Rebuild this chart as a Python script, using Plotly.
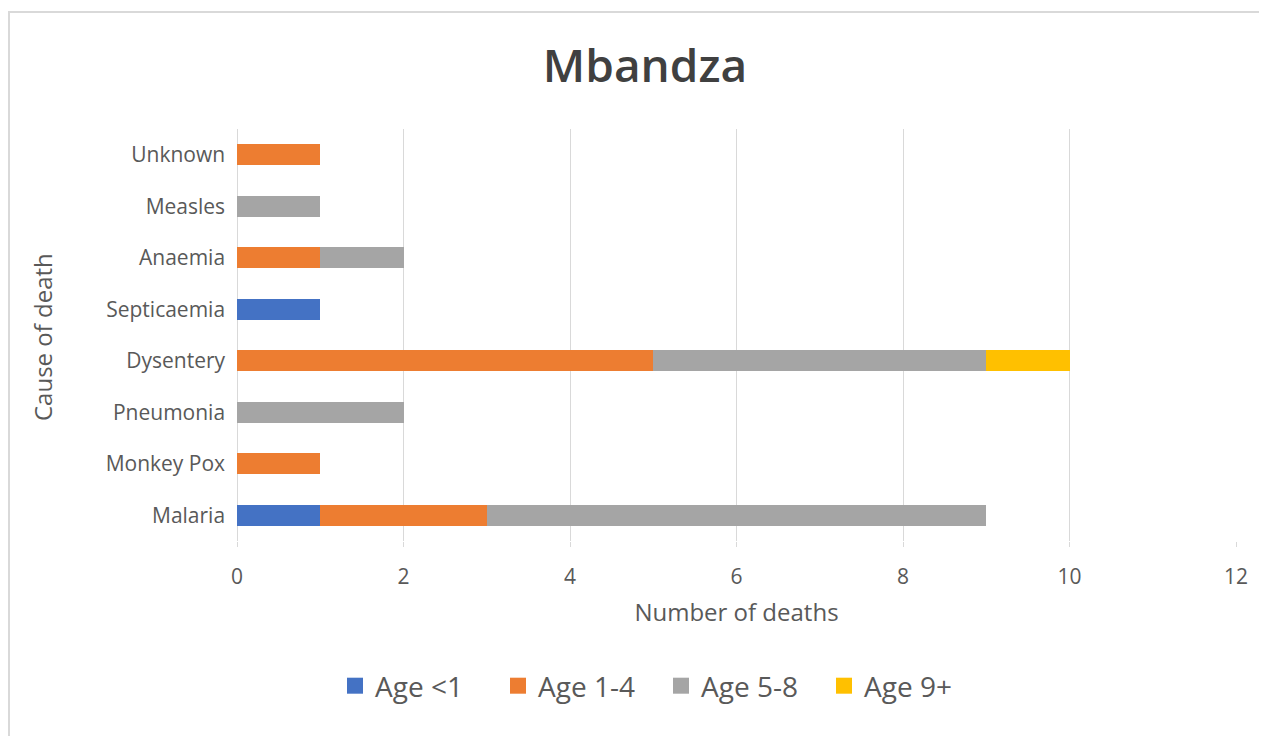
import plotly.graph_objects as go

causes = ["Malaria", "Monkey Pox", "Pneumonia", "Dysentery", "Septicaemia",
          "Anaemia", "Measles", "Unknown"]
age_under1 = [1, 0, 0, 0, 1, 0, 0, 0]
age_1_4 = [2, 1, 0, 5, 0, 1, 0, 1]
age_5_8 = [6, 0, 2, 4, 0, 1, 1, 0]
age_9plus = [0, 0, 0, 1, 0, 0, 0, 0]

series = [
    ("Age <1", age_under1, "#4472C4"),
    ("Age 1-4", age_1_4, "#ED7D31"),
    ("Age 5-8", age_5_8, "#A5A5A5"),
    ("Age 9+", age_9plus, "#FFC000"),
]

# the page body has an 8px margin, so work in screen px minus 8
OFF = 8
W, H = 1267 - OFF, 736 - OFF
L, T = 237 - OFF, 129 - OFF
R = 1267 - 1236
B = 736 - 541
pw = W - L - R
ph = H - T - B


def px_x(x):
    return (x - OFF - L) / pw


def px_y(y):
    return (T + ph - (y - OFF)) / ph


fig = go.Figure()
for name, vals, col in series:
    fig.add_trace(go.Bar(
        y=causes, x=vals, name=name, orientation="h",
        marker=dict(color=col, line=dict(width=0)),
        showlegend=False,
    ))
    # bigger legend squares than bar swatches
    fig.add_trace(go.Scatter(
        x=[None], y=[None], mode="markers", name=name,
        marker=dict(symbol="square", size=16, color=col),
    ))

grey = "#595959"
fig.update_layout(
    barmode="stack",
    bargap=0.6,
    width=W, height=H,
    margin=dict(l=L, r=R, t=T, b=B, autoexpand=False),
    paper_bgcolor="white",
    plot_bgcolor="white",
    font=dict(family="Open Sans", color=grey, size=21),
    title=dict(
        text="Mbandza",
        x=(645 - OFF) / W, xanchor="center",
        y=1 - (66 - OFF) / H, yanchor="middle",
        font=dict(size=46, color="#404040", family="Open Sans", weight=600),
    ),
    legend=dict(
        orientation="h",
        x=px_x(335), xanchor="left",
        y=px_y(686), yanchor="middle",
        font=dict(size=28, color=grey),
        itemwidth=30,
        entrywidth=118,
        traceorder="normal",
    ),
    shapes=[dict(
        type="rect", xref="paper", yref="paper",
        x0=px_x(9), x1=px_x(1265),
        y0=px_y(760), y1=px_y(12),
        line=dict(color="#d9d9d9", width=2),
        layer="below",
    )],
    annotations=[dict(
        text="Cause of death", textangle=-90,
        xref="paper", yref="paper",
        x=px_x(42), y=px_y(337),
        xanchor="center", yanchor="middle",
        showarrow=False, font=dict(size=24, color=grey),
    )],
)
fig.update_xaxes(
    range=[0, 12], dtick=2, showgrid=True, gridcolor="#d9d9d9", gridwidth=1,
    zeroline=True, zerolinecolor="#d9d9d9", zerolinewidth=1,
    showline=False, ticks="outside", ticklen=5, tickcolor="#d9d9d9",
    ticklabelstandoff=12,
    tickfont=dict(size=21, color=grey),
    title=dict(text="Number of deaths", font=dict(size=24, color=grey), standoff=14),
)
fig.update_yaxes(
    showgrid=False, zeroline=False, showline=False, ticks="",
    tickfont=dict(size=21, color=grey), ticksuffix="  ",
)

fig.write_html("out.html")
